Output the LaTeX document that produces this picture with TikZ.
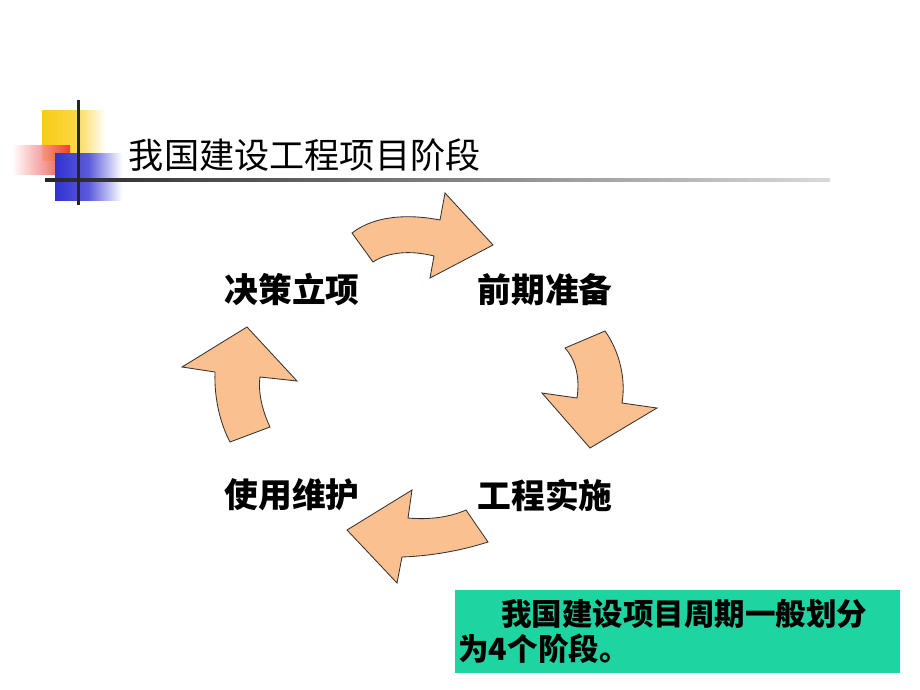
\documentclass[tikz,border=0pt]{standalone}
\usepackage{fontspec}
\newfontfamily\cjk{Noto Sans CJK SC}
\usepackage{tikz}

\definecolor{peach}{RGB}{250,192,143}
\definecolor{notegreen}{RGB}{30,212,160}
\definecolor{deco yellow}{RGB}{250,204,20}
\definecolor{deco red}{RGB}{235,40,40}
\definecolor{deco blue}{RGB}{50,50,210}

\begin{document}
\begin{tikzpicture}[x=0.025cm, y=-0.025cm,
    stage/.style={font=\cjk\bfseries\fontsize{24}{28}\selectfont},
    bend arrow/.style={fill=peach, draw=black!80, line width=0.6pt, line join=miter}]
    \useasboundingbox (0,0) rectangle (920,690);

    % Title decoration
    \shade[left color=deco yellow, right color=white, middle color=deco yellow!80] (42,110) rectangle (106,160);
    \shade[left color=white, right color=deco red, opacity=0.85] (12,145) rectangle (70,174);
    \shade[left color=deco blue, right color=white, middle color=deco blue!80] (55,153) rectangle (122,200);
    \shade[left color=black!85, right color=black!15] (45,178.5) rectangle (830,181.5);
    \fill[black!85] (76.5,100) rectangle (79.5,205);
    \node[anchor=west, font=\cjk\fontsize{25}{30}\selectfont] (title) at (124,155) {我国建设工程项目阶段};

    % Stages
    \node[stage, node distance=6.325cm] (decide) at (292,290) {决策立项};
    \node[stage, right of=decide, node distance=6.325cm] (prepare) {前期准备};
    \node[stage, below of=decide, node distance=5.125cm] (operate) {使用维护};
    \node[stage, right of=operate, node distance=6.325cm] (build) {工程实施};

    % Curved arrows
    \draw[bend arrow] (352,233) .. controls (375,215) and (410,214) .. (440,220)
        -- (445,193) -- (493,245) -- (430,278) -- (434,256)
        .. controls (410,250) and (388,252) .. (373,262) -- cycle;
    \draw[bend arrow] (565,348) -- (605,331) .. controls (620,352) and (626,380) .. (622,403)
        -- (657,408) -- (590,448) -- (542,393) -- (577,398)
        .. controls (580,378) and (576,360) .. cycle;
    \draw[bend arrow] (466,510) -- (488,542) .. controls (460,551) and (430,556) .. (402,557)
        -- (397,583) -- (347,530) -- (412,490) -- (408,518)
        .. controls (430,520) and (450,517) .. cycle;
    \draw[bend arrow] (230,442) -- (270,427) .. controls (262,410) and (258,392) .. (260,377)
        -- (297,381) -- (247,327) -- (182,367) -- (215,372)
        .. controls (214,400) and (221,425) .. cycle;

    % Note
    \node[fill=notegreen, minimum width=11.125cm, minimum height=2.075cm, inner sep=0pt,
        text width=10.95cm, align=left, font=\cjk\bfseries\fontsize{21.7}{24.8}\selectfont]
        (note) at (677.5,631.5) {\hspace*{1.4em}我国建设项目周期一般划分\\为4个阶段。};
\end{tikzpicture}
\end{document}
